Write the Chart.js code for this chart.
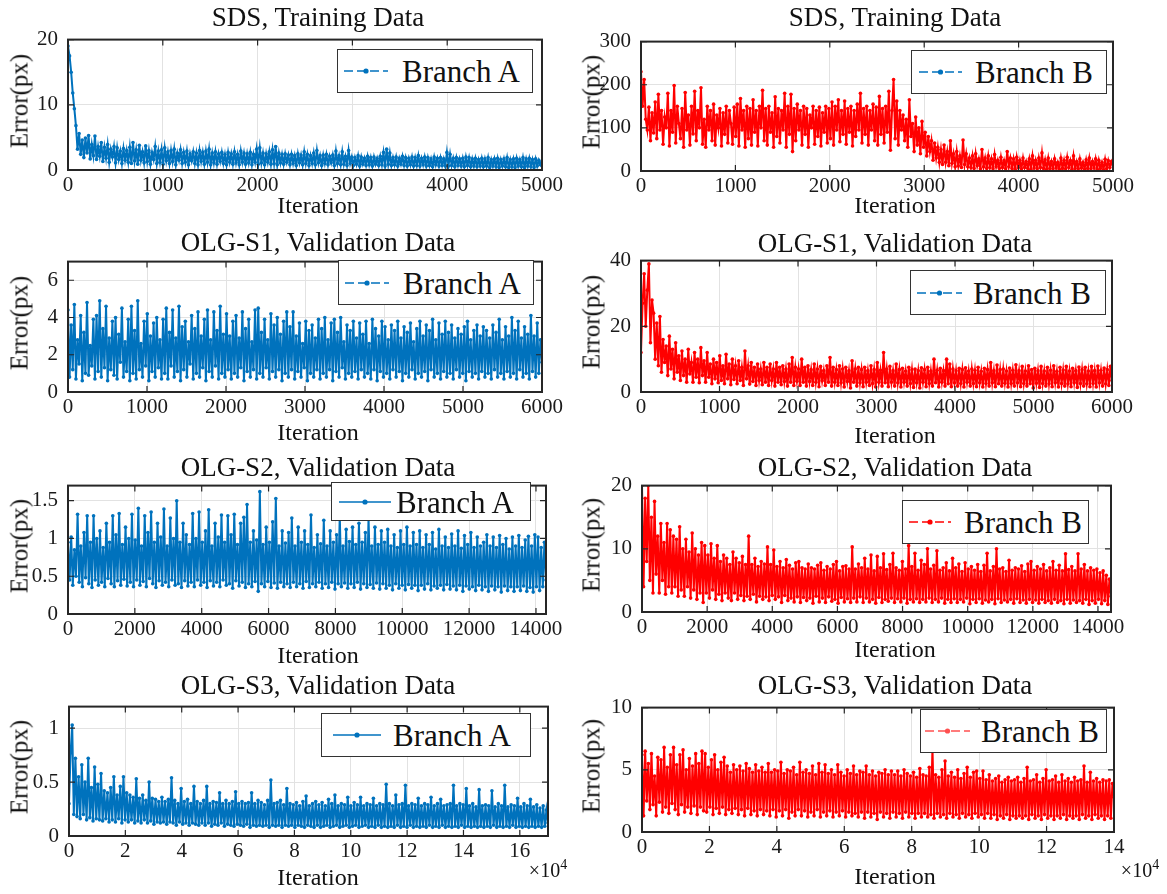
<!DOCTYPE html>
<html><head><meta charset="utf-8">
<script src="https://cdn.jsdelivr.net/npm/chart.js@4.4.1/dist/chart.umd.min.js"></script>
<style>
body{margin:0;background:#fff;}
#wrap{position:relative;width:1167px;height:894px;overflow:hidden;background:#fff;font-family:"Liberation Serif","Times New Roman",serif;color:#111;}
canvas{position:absolute;}
.t{position:absolute;white-space:nowrap;transform:translate(-50%,-50%);line-height:1;}
.title{font-size:27px;}
.xl{font-size:24px;}
.yl{font-size:25px;transform:translate(-50%,-50%) rotate(-90deg);}
.exp{font-size:20px;}
.exp sup{font-size:14px;vertical-align:0.55em;}
.leg{position:absolute;border:1px solid #333;background:#fff;box-sizing:border-box;}
.leg span{position:absolute;font-size:31px;line-height:1;top:50%;transform:translateY(-50%);white-space:nowrap;}
.leg svg{position:absolute;top:50%;transform:translateY(-50%);overflow:visible;}
</style></head><body><div id="wrap"></div>
<script>
// ---------- DATA ----------
const titles = ['SDS, Training Data','SDS, Training Data','OLG-S1, Validation Data','OLG-S1, Validation Data','OLG-S2, Validation Data','OLG-S2, Validation Data','OLG-S3, Validation Data','OLG-S3, Validation Data'];
const seriesLabels = ['Branch A','Branch B','Branch A','Branch B','Branch A','Branch B','Branch A','Branch B'];
const xAxisLabel = 'Iteration';
const yAxisLabel = 'Error(px)';

// iteration range of each panel (last two in units of 10^4)
const iterMax = [5000, 5000, 6000, 6000, 14300, 14400, 17, 14];

const xTicks5000 = [0,1000,2000,3000,4000,5000];
const xTicks6000 = [0,1000,2000,3000,4000,5000,6000];
const xTicks14k = [0,2000,4000,6000,8000,10000,12000,14000];
const xTicks17 = [0,2,4,6,8,10,12,14,16];
const xTicks14 = [0,2,4,6,8,10,12,14];

const yTicksSdsA = [0,10,20];
const yTicksSdsB = [0,100,200,300];
const yTicksS1A = [0,2,4,6];
const yTicksS1B = [0,20,40];
const yTicksS2A = [0,0.5,1,1.5];
const yTicksS2B = [0,10,20];
const yTicksS3A = [0,0.5,1];
const yTicksS3B = [0,5,10];
const yMax = [20, 300, 7, 40, 1.7, 20, 1.2, 10];

const sdsA = [
19,17.5,15,11.8,9.4,6.8,3.2,5.6,2.4,4.6,1.9,4.9,2.6,5.3,1.7,3.9,2.2,5.2,1.6,3.6,
2.1,4.2,1.3,3.5,1.8,3.9,1.2,3.2,2.0,3.6,1.1,3.4,1.6,2.9,1.0,3.3,1.5,3.0,1.2,3.5,
1.0,4.2,1.4,3.1,0.9,3.8,1.5,2.8,1.1,3.7,1.3,3.0,0.9,2.7,1.6,3.6,1.0,2.9,1.2,3.1,
0.9,3.4,1.4,2.8,1.0,3.0,1.3,3.2,0.8,2.6,1.5,3.1,1.0,2.7,1.2,2.9,0.8,2.5,1.4,2.8,
1.0,2.6,0.8,3.0,1.3,2.7,0.9,2.9,1.2,3.2,0.8,2.6,1.1,2.8,0.9,2.5,1.3,2.7,1.0,2.4,
0.8,2.7,1.2,2.5,0.9,2.8,1.1,2.4,0.8,2.9,1.2,2.6,0.9,2.5,1.1,2.7,0.8,2.4,1.2,3.2,
0.9,3.4,1.1,2.6,0.8,2.5,1.2,2.8,0.9,3.1,1.0,3.6,0.8,2.6,1.1,2.4,0.9,2.5,1.2,2.3,
0.8,2.4,1.0,2.2,0.7,2.5,1.1,2.3,0.8,2.8,1.0,2.4,0.7,2.2,1.0,2.6,0.8,3.0,1.1,2.2,
0.7,2.3,1.0,2.4,0.8,2.1,1.1,2.3,0.7,2.9,1.0,2.2,0.8,2.8,0.9,2.1,0.7,3.0,1.0,2.0,
0.7,1.9,0.9,2.2,0.6,2.0,0.9,1.8,0.7,2.1,0.8,1.9,0.6,2.0,0.9,1.8,0.7,2.1,0.8,2.7,
0.6,3.2,0.9,2.6,0.7,1.9,0.8,2.0,0.6,1.8,0.9,2.1,0.7,1.9,0.6,1.8,0.8,2.0,0.6,1.9,
0.7,2.2,0.6,1.8,0.8,2.0,0.6,1.9,0.7,1.7,0.5,2.0,0.8,1.8,0.6,1.9,0.7,1.7,0.6,2.7,
0.6,2.4,0.7,1.8,0.5,1.9,0.7,1.7,0.6,1.8,0.5,2.0,0.7,1.9,0.5,1.7,0.6,1.8,0.5,1.6,
0.6,1.8,0.5,1.7,0.6,1.9,0.4,1.6,0.6,1.7,0.5,1.8,0.4,1.6,0.6,1.7,0.5,1.9,0.4,1.6,
0.5,1.7,0.4,1.8,0.6,1.6,0.5,1.9,0.4,1.7,0.6,1.8,0.5,1.6,0.4,1.7,0.6,1.5,0.8,1.3];

const sdsB = [
230,150,212,120,95,148,70,135,88,160,75,178,95,140,62,125,100,180,58,140,
90,198,65,150,110,75,145,55,182,95,130,60,150,86,185,70,140,100,193,62,
120,55,150,95,140,70,155,60,130,100,145,58,135,85,150,65,140,110,62,148,
80,155,58,168,95,140,55,150,75,145,60,165,90,140,58,150,100,187,70,145,
60,150,90,135,55,172,80,145,65,140,95,180,55,150,85,178,45,145,70,155,
95,140,60,150,85,145,55,130,100,150,62,140,80,148,58,135,90,150,65,145,
75,160,60,150,95,165,68,140,85,162,62,145,90,150,58,140,80,155,95,180,
65,145,85,150,60,140,95,155,70,148,60,173,85,145,65,150,90,185,48,140,
212,75,162,60,140,95,130,70,120,55,165,80,110,45,125,60,100,40,115,55,
90,35,80,45,70,25,65,30,55,20,50,15,60,20,45,12,70,18,40,10,
45,12,35,8,72,15,40,10,30,8,35,6,40,12,28,5,50,10,30,6,
35,8,28,5,38,10,25,6,32,8,24,5,45,10,30,6,28,4,32,8,
25,5,30,8,22,6,28,4,35,7,25,5,30,8,42,6,26,4,30,6,
22,5,28,7,20,4,30,6,25,5,32,8,24,4,35,6,22,5,28,7,
20,4,26,6,30,5,22,7,28,4,25,6,20,3,27,5,24,8,22,14];

const s1A = [
4.4,0.8,3.6,1.2,4.7,0.7,2.8,1.5,4.1,0.6,3.2,1.0,4.8,0.9,2.5,1.4,3.9,0.7,4.1,1.1,
4.9,0.8,3.4,1.3,4.6,0.6,2.9,1.2,3.8,0.9,4.0,0.7,3.1,1.6,4.5,0.8,2.7,1.1,3.9,0.6,
4.6,1.0,3.3,0.7,4.9,1.2,2.6,0.8,3.8,1.4,4.2,0.6,3.0,1.1,3.7,0.8,4.0,1.3,2.8,0.7,
3.9,1.0,4.5,0.7,3.2,1.4,4.4,0.8,2.9,1.1,4.6,0.6,3.5,1.2,3.8,0.8,2.7,1.5,4.1,0.7,
3.4,1.0,4.3,0.8,3.0,1.3,3.9,0.6,4.4,1.1,2.8,0.8,4.3,1.4,3.3,0.7,4.6,1.0,3.1,0.8,
4.2,1.2,3.0,0.7,3.8,1.0,4.1,0.8,2.9,1.3,4.3,0.6,3.4,1.1,3.9,0.8,2.7,1.2,4.4,0.7,
4.5,1.0,3.2,0.8,3.9,1.3,2.8,0.7,4.2,1.1,3.6,0.8,4.0,1.2,3.1,0.6,3.8,1.0,4.3,0.8,
3.5,1.2,4.3,0.7,3.0,1.1,3.7,0.8,2.6,1.3,3.8,0.6,3.3,1.0,3.6,0.8,2.9,1.2,3.9,0.7,
3.4,1.0,4.0,0.8,2.8,1.2,3.7,0.6,3.9,1.1,3.2,0.8,4.0,1.3,2.7,0.7,3.6,1.0,3.3,0.8,
3.8,1.1,2.9,0.7,3.7,1.2,3.1,0.8,3.8,1.0,2.6,0.7,3.9,1.2,3.4,0.6,3.0,1.1,3.8,0.8,
3.5,1.0,2.8,0.7,3.6,1.2,3.3,0.8,3.8,1.1,2.9,0.6,3.5,1.0,3.2,0.8,3.7,1.2,2.7,0.7,
3.4,1.0,3.8,0.8,3.0,1.1,3.6,0.6,3.3,1.2,3.9,0.8,2.8,1.0,3.7,0.7,3.1,1.1,3.8,0.8,
3.2,1.0,3.6,0.7,2.9,1.2,3.4,0.8,3.1,1.0,3.5,0.6,3.8,1.1,2.8,0.8,3.3,1.0,3.6,0.7,
3.0,1.1,3.5,0.8,3.3,1.0,2.9,0.7,3.6,1.2,3.2,0.8,3.9,1.0,2.8,0.7,3.5,1.1,3.0,0.8,
4.0,1.0,3.3,0.7,3.8,1.2,2.9,0.8,3.5,1.0,3.1,0.7,4.1,1.1,3.0,0.8,3.7,1.0,2.8,1.6];

const s1B = [
12,27,36,20,31,39,15,28,24,10,21,8,23,6,16,9,14,5,17,7,
13,4,15,6,11,3.5,12.5,5,10,3,13,5.5,9,3,12,4.5,10,2.8,13.5,5,
9.5,3,12,4.5,8.5,2.5,10,4,9,2.8,11,3.5,8,2.5,11.5,4,8.5,2.2,10,3.8,
8,2.5,9.5,3.5,7.5,2,12.5,4,8,2.4,9,3.2,7.5,2,8.5,3.5,7,2.2,9,3,
7.5,2,8.5,3.5,7,1.8,9,3,7.5,2.2,8,3.2,7,1.8,8.5,3,10.5,2,7.5,3.3,
7,2,10,3,7.5,1.8,8,3.2,6.8,2,8.5,3,7,1.6,7.8,3.4,6.5,2,8,3,
10.5,1.8,7.5,3,6.8,2,8,2.8,7,1.5,7.5,3.2,6.5,1.2,9.5,3,7,1.8,7.5,2.8,
6.8,1.6,7.5,3,6.5,2,8,2.6,6.8,1.5,9,3,6.6,1.8,12,2.8,7,1.6,7.8,3,
6.5,1.8,8.5,2.8,6.8,1.5,7.2,3,6.4,1.8,7.5,2.6,6.8,1.4,7,2.8,6.5,1.2,7.4,3,
6.8,1.6,7.5,2.6,6.4,1.8,10,2.8,6.6,1.5,7.2,3,6.5,1.8,10,2.5,8.5,1.6,7,2.8,
6.5,1.8,7.2,2.6,6.8,1.5,7.4,3,6.4,1.8,7,2.6,6.6,1.6,7.5,2.8,6.3,1.5,7.2,2.6,
6.8,1.8,9,2.8,6.5,1.6,8.2,2.5,6.8,1.8,7,2.7,6.4,1.5,7.3,2.6,6.6,1.8,8.3,2.8,
6.5,1.6,7.8,2.6,6.4,1.8,8,2.5,6.8,1.2,7.2,2.7,6.5,1.4,7.8,2.6,6.4,1.8,7.5,2.5,
6.6,1.6,8,2.8,6.3,1.5,7.5,2.6,6.7,1.8,7.8,2.5,6.4,1.6,7.2,2.8,6.5,1.4,7.6,2.6,
6.8,1.8,7.5,2.5,6.4,1.6,7.8,2.6,6.5,1.5,7.9,2.8,6.6,1.8,7.3,2.5,6.8,2,7.8,3.5];

const s2A = [
0.95,0.45,1.02,0.38,0.85,0.5,1.32,0.42,0.9,0.36,1.08,0.48,1.3,0.4,0.95,0.35,1.3,0.45,1.0,0.38,
1.1,0.42,0.88,0.36,1.2,0.47,0.95,0.4,1.3,0.36,1.05,0.44,1.33,0.38,0.92,0.46,1.15,0.37,1.0,0.42,
1.32,0.36,0.98,0.45,1.4,0.38,0.9,0.43,1.3,0.36,1.08,0.47,1.35,0.4,0.95,0.35,1.2,0.44,1.02,0.38,
1.39,0.42,0.9,0.36,1.27,0.45,1.0,0.38,1.5,0.4,0.95,0.35,1.2,0.44,1.05,0.37,0.92,0.42,1.33,0.36,
1.0,0.45,1.35,0.38,0.95,0.42,1.1,0.35,1.38,0.44,0.9,0.37,1.2,0.42,1.02,0.36,1.31,0.45,0.95,0.38,
1.3,0.4,1.05,0.34,1.32,0.44,0.92,0.37,1.2,0.42,1.28,0.35,1.45,0.4,0.95,0.36,1.1,0.43,0.98,0.3,
1.62,0.4,0.92,0.36,1.15,0.43,0.95,0.35,1.22,0.41,1.53,0.34,0.9,0.42,1.1,0.36,0.94,0.4,1.08,0.35,
1.27,0.42,0.9,0.36,1.15,0.4,0.95,0.34,1.1,0.43,0.92,0.35,1.31,0.4,0.88,0.36,1.05,0.42,0.93,0.34,
1.24,0.4,0.9,0.35,1.1,0.42,0.95,0.33,1.05,0.4,1.31,0.36,0.9,0.41,1.12,0.34,0.96,0.4,1.15,0.35,
0.92,0.42,1.2,0.33,0.95,0.4,1.08,0.35,1.28,0.39,0.9,0.34,1.15,0.41,0.92,0.33,1.1,0.4,0.95,0.34,
1.12,0.38,0.9,0.32,1.05,0.4,0.88,0.34,1.1,0.38,0.92,0.32,1.15,0.39,0.9,0.34,1.08,0.38,0.92,0.31,
1.1,0.38,0.88,0.33,1.05,0.4,0.92,0.32,1.08,0.37,0.86,0.34,1.12,0.38,0.9,0.32,1.02,0.39,0.88,0.33,
1.06,0.37,0.9,0.32,1.1,0.38,0.87,0.3,1.04,0.37,0.92,0.33,1.08,0.36,0.88,0.31,1.02,0.38,0.9,0.32,
0.95,0.36,1.05,0.3,0.9,0.37,1.02,0.32,0.88,0.36,1.04,0.29,0.92,0.37,1.0,0.31,0.86,0.36,1.02,0.3,
0.9,0.36,1.04,0.31,0.88,0.37,0.98,0.3,1.03,0.35,0.9,0.29,1.05,0.36,1.02,0.31,0.88,0.36,0.95,0.45];

const s2B = [
20,4,18,8,20,5,15,3,17.5,6,12,3,14,5,11,2.8,14,4,13,3,
12,4,11.5,2.5,13.5,3.5,10,2.5,11.5,4,9.5,2.2,12.5,3.5,10,2,9,3,11,1.5,
10.5,3,9,2.2,10.8,3.5,8.5,2,10.5,2.8,8,1.8,9,3,8.5,2.2,7.5,1.8,9.5,3,
8.5,2,7.8,2.6,8.8,1.8,7.5,2.5,12,2,7.5,2.8,8.5,1.6,7.2,2.5,8,2,7.6,2.4,
10.3,1.8,7.5,2.6,9.8,2,7.2,2.4,8,1.5,7,2.6,8.3,1.8,7.4,2.2,6.8,1.6,7.8,2.4,
8,1.5,7,2.3,6.8,1.8,7.6,2.2,7,1.4,6.8,2.5,7.4,1.6,7.8,2.2,6.6,1.5,7.2,2.4,
6.8,1.7,7.5,2,8,1.4,6.5,2.3,7.2,1.6,7.3,2.1,6.8,1.5,10.3,2.2,6.8,1.6,7.6,2.4,
7,1.5,8.5,2.2,6.8,1.6,9,2,6.5,1.4,8.8,2.3,7,1.5,9.2,2,6.7,1.7,7.5,2.2,
9.3,1.5,7,2.1,6.6,1.6,8,2.2,6.8,1.4,10.5,2,7.2,1.6,9.3,2.1,6.6,1.5,8.2,2,
7.5,1.6,10,2.2,6.8,1.5,7.4,2,9.7,1.6,6.6,2.2,7,1.4,7.8,2,6.5,1.5,8.5,2.1,
7,1.5,7.6,2,6.4,1.6,7.8,2.2,6.8,1.3,7.2,2,6.6,1.5,7.5,2.1,6.4,1.4,7.4,1.9,
9.3,1.6,6.5,2,7.2,1.3,10,2.1,6.8,1.5,7,1.9,6.4,1.6,8.2,2,6.6,1.4,7,2.1,
6.8,1.5,7.3,1.9,6.4,1.4,7.6,2,8,1.5,6.6,1.9,7.2,1.4,6.8,2,7.5,1.5,6.5,1.8,
7,1.4,8,2,6.6,1.5,7.4,1.8,6.5,1.3,9.2,2,6.7,1.4,7.2,1.9,6.5,1.5,9.2,1.8,
6.8,1.4,7.5,2,6.5,1.2,7,1.8,6.6,1.4,6.8,2,6.2,1.3,6.5,1.8,5.8,1.2,5.2,2.5];

const s3A = [
0.3,0.77,1.03,0.2,0.72,0.18,0.55,0.16,0.66,0.2,0.5,0.15,0.72,0.17,0.45,0.14,0.64,0.16,0.48,0.15,
0.58,0.14,0.42,0.16,0.4,0.13,0.45,0.15,0.55,0.13,0.38,0.16,0.46,0.12,0.55,0.15,0.4,0.13,0.38,0.15,
0.36,0.12,0.53,0.14,0.35,0.12,0.38,0.15,0.33,0.12,0.5,0.14,0.35,0.11,0.34,0.13,0.32,0.12,0.36,0.13,
0.32,0.11,0.34,0.13,0.54,0.12,0.33,0.1,0.3,0.13,0.44,0.11,0.32,0.12,0.34,0.1,0.3,0.12,0.46,0.11,
0.32,0.1,0.3,0.12,0.33,0.1,0.46,0.12,0.3,0.09,0.32,0.11,0.31,0.1,0.4,0.12,0.3,0.09,0.33,0.11,
0.3,0.1,0.32,0.09,0.41,0.11,0.3,0.1,0.32,0.09,0.3,0.11,0.31,0.08,0.4,0.1,0.3,0.09,0.33,0.1,
0.31,0.09,0.29,0.1,0.33,0.08,0.52,0.1,0.3,0.09,0.31,0.1,0.33,0.08,0.29,0.1,0.44,0.09,0.3,0.1,
0.29,0.08,0.31,0.1,0.28,0.09,0.32,0.08,0.37,0.1,0.28,0.09,0.3,0.08,0.32,0.1,0.29,0.08,0.31,0.09,
0.28,0.1,0.34,0.08,0.3,0.09,0.38,0.1,0.28,0.08,0.3,0.09,0.29,0.1,0.36,0.08,0.28,0.09,0.31,0.1,
0.29,0.08,0.36,0.09,0.28,0.1,0.3,0.08,0.29,0.09,0.35,0.08,0.28,0.1,0.3,0.08,0.29,0.09,0.48,0.08,
0.3,0.09,0.28,0.08,0.38,0.1,0.29,0.08,0.3,0.09,0.47,0.08,0.28,0.1,0.3,0.08,0.29,0.09,0.35,0.08,
0.28,0.09,0.3,0.08,0.29,0.1,0.36,0.08,0.28,0.09,0.3,0.08,0.34,0.1,0.28,0.08,0.29,0.09,0.3,0.08,
0.47,0.09,0.28,0.08,0.3,0.1,0.29,0.08,0.44,0.09,0.28,0.08,0.3,0.09,0.27,0.08,0.43,0.09,0.28,0.08,
0.29,0.09,0.28,0.08,0.42,0.1,0.27,0.08,0.3,0.09,0.28,0.08,0.47,0.09,0.27,0.08,0.29,0.1,0.28,0.08,
0.35,0.09,0.27,0.08,0.3,0.09,0.28,0.08,0.34,0.09,0.27,0.08,0.29,0.09,0.26,0.08,0.28,0.09,0.24,0.12];

const s3B = [
6.2,1.3,6.5,2.5,5.5,1.8,6.3,2.2,4.5,1.3,6.0,2.4,5.8,1.6,6.8,2.0,5.2,1.5,6.2,2.3,
6.8,1.8,5.4,1.4,6.2,2.2,6.6,1.6,5.0,2.0,5.9,1.5,5.3,2.1,6.3,1.4,5.5,2.0,6.5,1.7,
6.3,1.6,5.2,2.0,5.8,1.4,6.2,1.9,5.0,1.5,5.6,2.0,6.0,1.4,5.3,1.8,4.8,1.5,5.4,1.9,
5.0,1.4,5.3,1.8,4.9,1.3,5.5,1.9,5.1,1.4,4.8,1.7,5.4,1.3,4.9,1.8,5.2,1.4,4.8,1.7,
5.5,1.3,4.8,1.8,5.0,1.2,4.9,1.7,5.6,1.3,4.7,1.8,5.0,1.1,4.9,1.6,5.2,1.3,4.6,1.8,
5.6,1.3,4.8,1.7,5.0,1.2,4.7,1.6,5.3,1.3,4.6,1.8,5.5,1.2,4.8,1.6,5.4,1.3,4.7,1.7,
5.0,1.2,4.6,1.6,5.4,1.3,4.8,1.7,4.5,1.2,5.0,1.6,4.7,1.3,5.3,1.5,4.6,1.2,4.9,1.6,
4.8,1.1,5.3,1.6,4.6,1.2,4.9,1.5,4.5,1.0,4.8,1.6,4.7,1.2,5.0,1.5,4.6,1.1,4.9,1.6,
4.6,1.2,4.9,1.5,4.5,1.1,5.0,1.6,4.7,1.2,4.5,1.5,4.8,1.1,4.4,1.5,5.1,1.2,4.6,1.5,
4.5,1.2,5.2,1.4,6.8,1.1,4.6,1.5,4.4,1.2,5.0,1.4,5.7,1.1,4.5,1.5,4.8,1.2,4.4,1.4,
5.0,1.1,4.3,1.5,4.7,1.2,5.2,1.4,4.4,1.1,4.8,1.5,4.9,1.2,4.3,1.4,4.9,1.1,4.2,1.5,
4.6,1.1,4.1,1.4,4.3,1.0,4.5,1.3,4.0,1.1,4.2,1.4,4.4,1.0,4.1,1.3,4.2,1.1,4.4,1.3,
4.0,1.1,4.3,1.3,5.2,1.0,4.1,1.4,4.2,1.1,4.6,1.3,4.0,1.0,4.3,1.4,5.0,1.1,4.1,1.3,
4.2,1.0,4.5,1.3,4.0,1.1,4.6,1.4,4.1,1.0,4.3,1.3,4.0,1.1,4.4,1.3,4.1,1.0,4.2,1.4,
5.3,1.1,4.0,1.3,4.8,1.0,4.1,1.4,4.3,1.1,4.0,1.3,4.2,1.0,4.1,1.3,4.2,1.1,3.9,2.8];

// ---------- LAYOUT & STYLE ----------
const BLUE = '#0072BD', RED = '#FF0000', LIGHTRED = '#FF5050';
const FONT = '"Liberation Serif","Times New Roman",serif';
const panels = [
 {vals:sdsA, xt:xTicks5000, yt:yTicksSdsA, color:BLUE, plot:[68,32,542,170], leg:[337,49,533,93,344,388,402], legColor:BLUE, dash:true, title:[318,17], xl:[318,205], yl:[19,101]},
 {vals:sdsB, xt:xTicks5000, yt:yTicksSdsB, color:RED, plot:[641,34,1113,171], leg:[911,50,1107,94,919,962,975], legColor:BLUE, dash:true, title:[895,17], xl:[895,205], yl:[591,102]},
 {vals:s1A, xt:xTicks6000, yt:yTicksS1A, color:BLUE, plot:[68,254,542,392], leg:[338,260,534,305,345,389,403], legColor:BLUE, dash:true, title:[318,242], xl:[318,432], yl:[19,323]},
 {vals:s1B, xt:xTicks6000, yt:yTicksS1B, color:RED, plot:[641,253,1112,392], leg:[910,270,1106,315,917,962,973], legColor:BLUE, dash:true, title:[895,243], xl:[895,435], yl:[591,322]},
 {vals:s2A, xt:xTicks14k, yt:yTicksS2A, color:BLUE, plot:[68,478,546,614], leg:[331,482,531,521,339,391,396], legColor:BLUE, dash:false, title:[318,467], xl:[318,655], yl:[19,546]},
 {vals:s2B, xt:xTicks14k, yt:yTicksS2B, color:RED, plot:[642,478,1111,612], leg:[902,500,1089,544,909,951,964], legColor:RED, dash:true, title:[895,467], xl:[895,649], yl:[591,545]},
 {vals:s3A, xt:xTicks17, yt:yTicksS3A, color:BLUE, plot:[69,699,548,836], leg:[321,713,531,757,333,381,393], legColor:BLUE, dash:false, title:[318,685], xl:[318,877], yl:[19,767], exp:[548,869]},
 {vals:s3B, xt:xTicks14, yt:yTicksS3B, color:RED, plot:[642,700,1114,832], leg:[920,709,1107,753,925,970,981], legColor:LIGHTRED, dash:true, title:[895,685], xl:[895,876], yl:[591,766], exp:[1140,869]}
];

const wrap = document.getElementById('wrap');
function addText(cls, html, x, y){
  const d = document.createElement('div'); d.className = 't ' + cls; d.innerHTML = html;
  d.style.left = x + 'px'; d.style.top = y + 'px'; wrap.appendChild(d); return d;
}

const boxPlugin = {
  id: 'matlabBox',
  afterDatasetsDraw(chart){
    const {ctx, chartArea:a, scales:{x, y}} = chart;
    ctx.save();
    ctx.strokeStyle = '#262626'; ctx.lineWidth = 1.2;
    ctx.beginPath();
    x.ticks.forEach(t => { const p = x.getPixelForValue(t.value);
      ctx.moveTo(p, a.bottom); ctx.lineTo(p, a.bottom - 6); ctx.moveTo(p, a.top); ctx.lineTo(p, a.top + 6); });
    y.ticks.forEach(t => { const p = y.getPixelForValue(t.value);
      ctx.moveTo(a.left, p); ctx.lineTo(a.left + 6, p); ctx.moveTo(a.right, p); ctx.lineTo(a.right - 6, p); });
    ctx.stroke();
    ctx.lineWidth = 2;
    ctx.strokeRect(a.left, a.top, a.right - a.left, a.bottom - a.top);
    ctx.restore();
  }
};

const LW = 60, TP = 15, RP = 34, XH = 40;
panels.forEach((p, i) => {
  const [pl, pt, pr, pb] = p.plot;
  const cv = document.createElement('canvas');
  const w = (pr - pl) + LW + RP, h = (pb - pt) + TP + XH;
  cv.width = w; cv.height = h; cv.style.width = w + 'px'; cv.style.height = h + 'px';
  cv.style.left = (pl - LW) + 'px'; cv.style.top = (pt - TP) + 'px';
  wrap.appendChild(cv);
  const n = p.vals.length;
  const pts = p.vals.map((v, k) => ({x: k * iterMax[i] / (n - 1), y: v}));
  const tickFont = {family: FONT, size: 21};
  new Chart(cv, {
    type: 'line',
    data: {datasets: [{data: pts, borderColor: p.color, backgroundColor: p.color, borderWidth: 2,
      pointRadius: 1.8, pointBorderWidth: 0, pointBackgroundColor: p.color, tension: 0, fill: false}]},
    options: {
      responsive: false, animation: false, devicePixelRatio: 1, events: [],
      layout: {padding: {left: 0, top: TP, right: RP, bottom: 0}},
      plugins: {legend: {display: false}, title: {display: false}, tooltip: {enabled: false}},
      scales: {
        x: {type: 'linear', min: 0, max: iterMax[i],
          afterFit: s => { s.height = XH; },
          afterBuildTicks: s => { s.ticks = p.xt.map(v => ({value: v})); },
          grid: {color: '#e2e2e2', drawTicks: false, lineWidth: 1},
          border: {display: false},
          ticks: {font: tickFont, color: '#1a1a1a', padding: 3, maxRotation: 0, autoSkip: false, callback: v => String(v)}},
        y: {type: 'linear', min: 0, max: yMax[i],
          afterFit: s => { s.width = LW; },
          afterBuildTicks: s => { s.ticks = p.yt.map(v => ({value: v})); },
          grid: {color: '#e2e2e2', drawTicks: false, lineWidth: 1},
          border: {display: false},
          ticks: {font: tickFont, color: '#1a1a1a', padding: 10, autoSkip: false, callback: v => String(v)}}
      }
    },
    plugins: [boxPlugin]
  });

  addText('title', titles[i], p.title[0], p.title[1]);
  addText('xl', xAxisLabel, p.xl[0], p.xl[1]);
  addText('yl', yAxisLabel, p.yl[0], p.yl[1]);
  if (p.exp) addText('exp', '×10<sup>4</sup>', p.exp[0], p.exp[1]);

  // legend box
  const [bl, bt, br, bb, lx0, lx1, tx] = p.leg;
  const lg = document.createElement('div'); lg.className = 'leg';
  lg.style.left = bl + 'px'; lg.style.top = bt + 'px';
  lg.style.width = (br - bl) + 'px'; lg.style.height = (bb - bt) + 'px';
  const sw = lx1 - lx0, sx = lx0 - bl - 1, mid = sw / 2;
  const dashAttr = p.dash ? 'stroke-dasharray="9,4"' : '';
  lg.innerHTML = '<svg width="' + sw + '" height="10" style="left:' + sx + 'px" viewBox="0 0 ' + sw + ' 10">' +
    '<line x1="0" y1="5" x2="' + sw + '" y2="5" stroke="' + p.legColor + '" stroke-width="1.4" ' + dashAttr + '/>' +
    '<circle cx="' + mid + '" cy="5" r="2.6" fill="' + p.legColor + '"/></svg>' +
    '<span style="left:' + (tx - bl - 1) + 'px">' + seriesLabels[i] + '</span>';
  wrap.appendChild(lg);
});
</script></body></html>
